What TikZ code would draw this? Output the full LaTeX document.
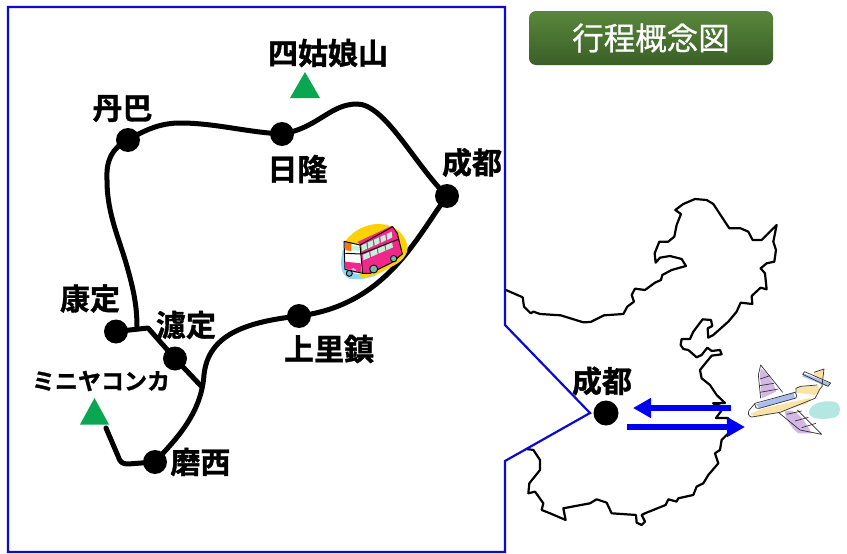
\documentclass[tikz,border=0pt]{standalone}
\usepackage{fontspec}
\usetikzlibrary{arrows.meta}
\newfontfamily\jpfont{Noto Sans CJK JP}[BoldFont={* Bold},BoldFeatures={FakeBold=1.2}]
\newfontfamily\jptitle{Noto Sans CJK JP}[FakeBold=0.7]
\definecolor{framecol}{HTML}{0A0AD2}
\definecolor{arrowcol}{HTML}{0000F0}
\definecolor{peakcol}{HTML}{0BA651}
\definecolor{pinkc}{HTML}{F0288C}
\definecolor{wingc}{HTML}{D3B8E6}
\definecolor{bandc}{HTML}{A9BDEE}
\definecolor{bodyc}{HTML}{FBE3A8}
\definecolor{tealc}{HTML}{B4E6E2}
\definecolor{btop}{HTML}{59873A}
\definecolor{bbot}{HTML}{3A5F28}
\definecolor{winc}{HTML}{BDF5D8}
\tikzset{x=1pt,y=-1pt,
  stop/.style={circle,fill=black,inner sep=0pt,minimum size=24pt},
  route/.style={line width=5pt,line join=round,line cap=round},
  place/.style={font=\jpfont\bfseries\fontsize{30}{30}\selectfont,inner sep=0pt},
  kana/.style={font=\jpfont\bfseries\fontsize{23}{23}\selectfont,inner sep=0pt},
  peak/.style={fill=peakcol,draw=none},
  frameline/.style={draw=framecol,line width=2.2pt,line join=miter},
  coast/.style={draw=black,line width=2.2pt,line join=round,line cap=round},
  flight/.style={arrowcol,line width=5.5pt,-{Triangle[length=18pt,width=19pt]}},
  fine/.style={draw=black!80,line width=.7pt,line join=round},
}
\begin{document}
\begin{tikzpicture}
\useasboundingbox (0,0) rectangle (847,554);
\fill[white] (0,0) rectangle (847,554);
% China outline
\begin{scope}[shift={(500,190)},x=.3333pt,y=-.3333pt]
\draw[coast] (18,300)--(68,322)--(72,350)--(92,370)--(100,365)--(120,372)--(182,376)--(250,397)--(272,396)--(312,376)--(370,372)--(382,350)--(402,335)--(395,315)--(405,296)--(435,300)--(465,278)--(483,270)--(487,255)--(515,240)--(558,228)--(545,207)--(510,198)--(480,203)--(467,218)--(464,190)--(478,155)--(505,155)--(523,140)--(530,105)--(543,72)--(526,60)--(550,42)--(585,27)--(620,30)--(640,42)--(688,115)--(722,115)--(745,125)--(758,150)--(785,150)--(830,105)--(820,155)--(828,180)--(823,215)--(800,220)--(782,235)--(795,250)--(800,298)--(782,293)--(755,318)--(757,342)--(722,338)--(710,365)--(685,395)--(640,435)--(625,443)--(623,415)--(637,408)--(633,390)--(608,388)--(580,425)--(570,447)--(545,447)--(542,465)--(550,477)--(565,480)--(590,502)--(605,495)--(622,473)--(635,483)--(660,480)--(665,493)--(635,497)--(600,540)
--(605,565)--(630,585)--(650,615)--(675,639)--(639,640)--(672,652)--(648,684)--(684,684)--(685,730)--(665,750)--(660,780)--(645,790)--(655,820)--(625,855)--(610,880)--(590,890)--(580,915)--(535,925)--(530,935)--(505,928)--(497,945)--(435,970)--(425,975)--(435,995)--(425,1005)--(410,998)--(408,975)--(335,970)--(320,938)--(290,928)--(270,940)--(190,955)--(197,990)--(150,970)--(125,960)--(130,940)--(105,905)--(85,910)--(88,880)--(120,840)--(120,810)--(100,780)--(80,777);
\end{scope}
% Frame
\draw[frameline] (8,7)--(505,7)--(505,325)--(590,413)--(505,461)--(505,552)--(8,552)--cycle;
% Title
\node[rounded corners=7pt,top color=btop,bottom color=bbot,minimum width=244pt,minimum height=54pt,inner sep=0pt,text=white,font=\jptitle\fontsize{31.5}{32}\selectfont] (title) at (651,38) {行程概念図};
% Route stops
\node[stop] (chengdu) at (447,196) {};
\node[stop] (rilong) at (282,134) {};
\node[stop] (danba) at (128,140) {};
\node[stop] (kangding) at (116,331.5) {};
\node[stop] (luding) at (175,358.5) {};
\node[stop] (shangli) at (299,316) {};
\node[stop] (moxi) at (155,462) {};
\coordinate (junction) at (202,387);
\coordinate (bend) at (148,328);
\coordinate (north) at (137,328);
\coordinate (peakend) at (106,428);
% Route lines
\draw[route] (chengdu.center) .. controls (415,165) and (385,104) .. (357,104) .. controls (330,104) and (318,128) .. (rilong.center);
\draw[route] (rilong.center) .. controls (245,132) and (215,123) .. (180,123) .. controls (160,123) and (145,130) .. (danba.center);
\draw[route] (danba.center) .. controls (112,148) and (106,160) .. (107,180) .. controls (107,215) and (120,240) .. (128,270) .. controls (135,295) and (137,310) .. (north);
\draw[route] (kangding.center) -- (bend) -- (luding.center) -- (junction);
\draw[route] (chengdu.center) .. controls (415,240) and (385,305) .. (shangli.center);
\draw[route] (shangli.center) .. controls (245,322) and (208,335) .. (204,375) .. controls (201,415) and (175,440) .. (moxi.center);
\draw[route] (moxi.center) -- (128,464) .. controls (122,464) and (120,462) .. (118,456) -- (peakend);
% Peaks
\path[peak] (305,72)--(320,98)--(290,98)--cycle;
\path[peak] (94.5,398)--(109,424.5)--(80,424.5)--cycle;
% Labels
\node[place] (siguniang) at (328,53) {四姑娘山};
\node[place] (ldanba) at (122.5,108.5) {丹巴};
\node[place] (lrilong) at (297.5,169) {日隆};
\node[place] (lchengdu) at (472,162.5) {成都};
\node[place] (lkangding) at (90,298.5) {康定};
\node[place] (lluding) at (186,325) {濾定};
\node[kana] (minya) at (101,381) {ミニヤコンカ};
\node[place] (lmoxi) at (200.5,462) {磨西};
\node[place] (lshangli) at (329,349) {上里鎮};
\node[place] (lcity) at (602,381) {成都};
% Chengdu on the map, flights
\node[stop,minimum size=25pt] (city) at (606,413) {};
\coordinate (planeL) at (731,408);
\coordinate (cityL) at (633,408);
\coordinate (cityR) at (627,427);
\coordinate (planeR) at (745,427);
\draw[flight] (planeL) -- (cityL);
\draw[flight] (cityR) -- (planeR);
% Bus
\begin{scope}[shift={(320,210)},x=.3333pt,y=-.3333pt]
\fill[cyan!45] (68,120)..controls (60,160) and (60,190)..(85,205)..controls (110,212) and (150,205)..(170,195)--(120,120)--cycle;
\fill[yellow!70!orange] (74,96)..controls (100,60) and (140,42)..(175,42)..controls (215,42) and (250,62)..(262,105)..controls (268,135) and (240,160)..(210,172)..controls (180,190) and (150,205)..(120,200)--(100,120)--cycle;
\fill[pinkc] (112,96)--(215,48)--(232,70)--(247,132)--(215,158)--(150,192)--(128,190)--(122,105)--cycle;
\fill[white] (72,94)--(120,105)--(128,190)--(110,192)--(75,178)--cycle;
\fill[orange!90!red] (75,96)--(94,100)--(94,124)--(76,120)--cycle;
\fill[pinkc] (76,155)--(122,160)--(125,188)--(76,175)--cycle;
\foreach \a in {0,1,2,3,4}{
  \fill[winc] ({124+\a*19},{106-\a*8.5})--({139+\a*19},{99-\a*8.5})--({141+\a*19},{116-\a*8.5})--({126+\a*19},{124-\a*8.5})--cycle;}
\foreach \a in {0,1,2,3}{
  \fill[winc] ({128+\a*23},{135-\a*10})--({147+\a*23},{126-\a*10})--({150+\a*23},{142-\a*10})--({130+\a*23},{151-\a*10})--cycle;}
\fill[winc] (96,106)--(118,110)--(118,124)--(96,120)--cycle;
\fill[white] (96,135)--(120,138)--(121,156)--(97,153)--cycle;
\fill[wingc] (92,186)..controls (92,170) and (108,168)..(110,190)--cycle;
\draw[black,line width=1pt,line join=round] (72,94)--(120,105)--(218,50)--(232,70)--(247,132)--(215,158)--(150,190)--(128,190)--(75,178)--cycle (120,105)--(128,190) (76,130)--(123,132)--(235,88);
\draw[black,line width=.9pt,fill=teal!55] (88,190) circle (3pt) (161,177) circle (4pt) (221,146) circle (3.2pt);
\end{scope}
% Plane
\begin{scope}[shift={(740,355)},x=.3333pt,y=-.3333pt]
\fill[tealc] (207,170)..controls (212,145) and (250,135)..(282,140)..controls (305,145) and (305,180)..(285,187)..controls (255,195) and (205,195)..(207,170)--cycle;
\fill[wingc] (62,40)..controls (85,55) and (105,90)..(108,110)--(65,130)--(60,60)--cycle;
\fill[wingc] (135,170)..controls (165,155) and (190,190)..(215,235)--(175,235)..controls (155,220) and (135,190)..(135,170)--cycle;
\fill[bodyc] (30,177)--(70,160)--(215,128)--(200,146)--(120,170)--(50,187)--cycle;
\fill[bodyc] (170,95)--(235,92)--(240,105)--(225,120)--(170,113)--cycle;
\fill[bodyc] (222,50)--(252,42)--(245,92)--(225,75)--cycle;
\fill[bandc] (48,148)--(160,112)--(165,130)--(58,160)--cycle;
\fill[bandc] (190,55)--(270,85)--(262,94)--(188,65)--cycle;
\draw[fine] (128,112)--(62,30)--(55,60)--(62,130);
\draw[fine] (60,72)--(90,62) (58,92)--(102,85) (60,112)--(115,102);
\draw[fine] (115,172)--(180,225)--(245,238)--(172,165);
\draw[fine] (140,178)--(185,168) (165,198)--(205,187) (185,218)--(228,205);
\draw[fine] (28,165)--(45,145)--(165,112)..controls (172,118) and (170,130)..(165,130)--(58,160)..controls (48,162) and (44,155)..(45,148);
\draw[fine] (28,165)..controls (22,175) and (25,183)..(35,186)--(120,172)--(225,130)--(240,102)--(248,92);
\draw[fine] (168,113)--(168,100)--(182,94)--(232,90);
\draw[fine] (188,58)--(194,50)--(272,84)--(264,94)--cycle;
\draw[fine] (222,52)--(252,42)--(246,92);
\end{scope}
\end{tikzpicture}
\end{document}
